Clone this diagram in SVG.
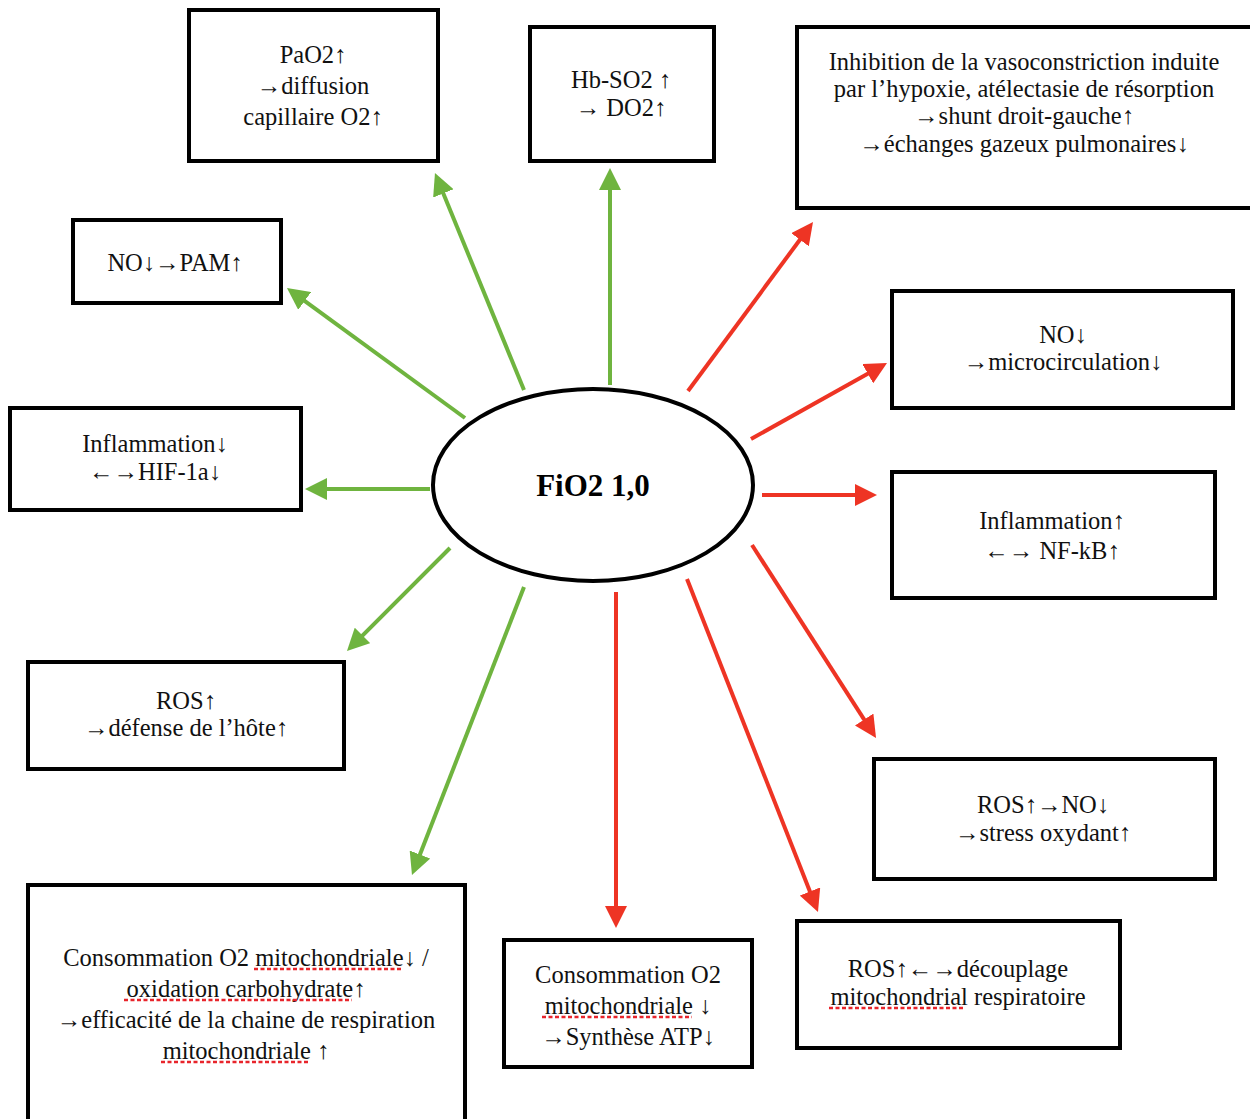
<svg xmlns="http://www.w3.org/2000/svg" width="1250" height="1119" viewBox="0 0 1250 1119">
<style>
.box{fill:#fff;stroke:#000;stroke-width:4}
.g{stroke:#6FB43F;stroke-width:4;fill:none}
.r{stroke:#EE3424;stroke-width:4;fill:none}
.sp{stroke:#E8242B;stroke-width:2.5;stroke-dasharray:4 2.5;fill:none}
</style>
<defs>
<marker id="ag" viewBox="0 0 22 22" refX="4" refY="11" markerWidth="22" markerHeight="22" markerUnits="userSpaceOnUse" orient="auto"><path d="M0,0 L22,11 L0,22 z" fill="#6FB43F"/></marker>
<marker id="ar" viewBox="0 0 22 22" refX="4" refY="11" markerWidth="22" markerHeight="22" markerUnits="userSpaceOnUse" orient="auto"><path d="M0,0 L22,11 L0,22 z" fill="#EE3424"/></marker>
</defs>
<rect width="1250" height="1119" fill="#fff"/>
<g id="connectors">
<line class="g" x1="524" y1="390" x2="441.8" y2="189.7" marker-end="url(#ag)"/>
<line class="g" x1="610" y1="385" x2="610" y2="186" marker-end="url(#ag)"/>
<line class="g" x1="465" y1="418" x2="301.5" y2="298.6" marker-end="url(#ag)"/>
<line class="g" x1="430" y1="489" x2="323" y2="489" marker-end="url(#ag)"/>
<line class="g" x1="450" y1="548" x2="359.7" y2="638.3" marker-end="url(#ag)"/>
<line class="g" x1="524" y1="587" x2="418.5" y2="858.2" marker-end="url(#ag)"/>
<line class="r" x1="688" y1="391" x2="802.3" y2="236.5" marker-end="url(#ar)"/>
<line class="r" x1="751" y1="439" x2="871.3" y2="371.8" marker-end="url(#ar)"/>
<line class="r" x1="762" y1="495" x2="859" y2="495" marker-end="url(#ar)"/>
<line class="r" x1="752" y1="545" x2="866.3" y2="722.9" marker-end="url(#ar)"/>
<line class="r" x1="687" y1="579" x2="811.4" y2="895.2" marker-end="url(#ar)"/>
<line class="r" x1="616" y1="592" x2="616" y2="910" marker-end="url(#ar)"/>
</g>
<g font-family="Liberation Serif, DejaVu Serif, serif" font-size="24.5" fill="#111" text-anchor="middle">
<g id="center">
<ellipse cx="593" cy="485" rx="160" ry="96" fill="#fff" stroke="#000" stroke-width="4"/>
<text x="593" y="496" font-size="31" font-weight="bold" fill="#000">FiO2 1,0</text>
</g>
<g id="n-pao2">
<rect class="box" x="189" y="10" width="249" height="151"/>
<text x="313" y="63">PaO2↑</text>
<text x="313" y="94">→diffusion</text>
<text x="313" y="125">capillaire O2↑</text>
</g>
<g id="n-hbso2">
<rect class="box" x="530" y="27" width="184" height="134"/>
<text x="621" y="88">Hb-SO2 ↑</text>
<text x="621" y="116">→ DO2↑</text>
</g>
<g id="n-inhibition">
<rect class="box" x="797" y="27" width="460" height="181"/>
<text x="1024" y="70">Inhibition de la vasoconstriction induite</text>
<text x="1024" y="97">par l’hypoxie, atélectasie de résorption</text>
<text x="1024" y="124">→shunt droit-gauche↑</text>
<text x="1024" y="152">→échanges gazeux pulmonaires↓</text>
</g>
<g id="n-nopam">
<rect class="box" x="73" y="220" width="208" height="83"/>
<text x="175" y="271">NO↓→PAM↑</text>
</g>
<g id="n-inflam-down">
<rect class="box" x="10" y="408" width="291" height="102"/>
<text x="155" y="452">Inflammation↓</text>
<text x="155" y="480">←→HIF-1a↓</text>
</g>
<g id="n-no-micro">
<rect class="box" x="892" y="291" width="341" height="117"/>
<text x="1063" y="343">NO↓</text>
<text x="1063" y="370">→microcirculation↓</text>
</g>
<g id="n-inflam-up">
<rect class="box" x="892" y="472" width="323" height="126"/>
<text x="1052" y="529">Inflammation↑</text>
<text x="1052" y="559">←→ NF-kB↑</text>
</g>
<g id="n-ros-defense">
<rect class="box" x="28" y="662" width="316" height="107"/>
<text x="186" y="709">ROS↑</text>
<text x="186" y="736">→défense de l’hôte↑</text>
</g>
<g id="n-ros-no">
<rect class="box" x="874" y="759" width="341" height="120"/>
<text x="1043" y="813">ROS↑→NO↓</text>
<text x="1043" y="841">→stress oxydant↑</text>
</g>
<g id="n-consommation-big">
<rect class="box" x="28" y="885" width="437" height="245"/>
<text x="246" y="966">Consommation O2 mitochondriale↓ /</text>
<text x="246" y="997">oxidation carbohydrate↑</text>
<text x="246" y="1028">→efficacité de la chaine de respiration</text>
<text x="246" y="1059">mitochondriale ↑</text>
<line class="sp" x1="254" y1="969" x2="403" y2="969"/>
<line class="sp" x1="124" y1="1000" x2="352" y2="1000"/>
<line class="sp" x1="161" y1="1062" x2="310" y2="1062"/>
</g>
<g id="n-consommation-atp">
<rect class="box" x="504" y="940" width="248" height="127"/>
<text x="628" y="983">Consommation O2</text>
<text x="628" y="1014">mitochondriale ↓</text>
<text x="628" y="1045">→Synthèse ATP↓</text>
<line class="sp" x1="542" y1="1017" x2="692" y2="1017"/>
</g>
<g id="n-ros-decouplage">
<rect class="box" x="797" y="921" width="323" height="127"/>
<text x="958" y="977">ROS↑←→découplage</text>
<text x="958" y="1005">mitochondrial respiratoire</text>
<line class="sp" x1="829" y1="1008" x2="963" y2="1008"/>
</g>
</g>
</svg>
